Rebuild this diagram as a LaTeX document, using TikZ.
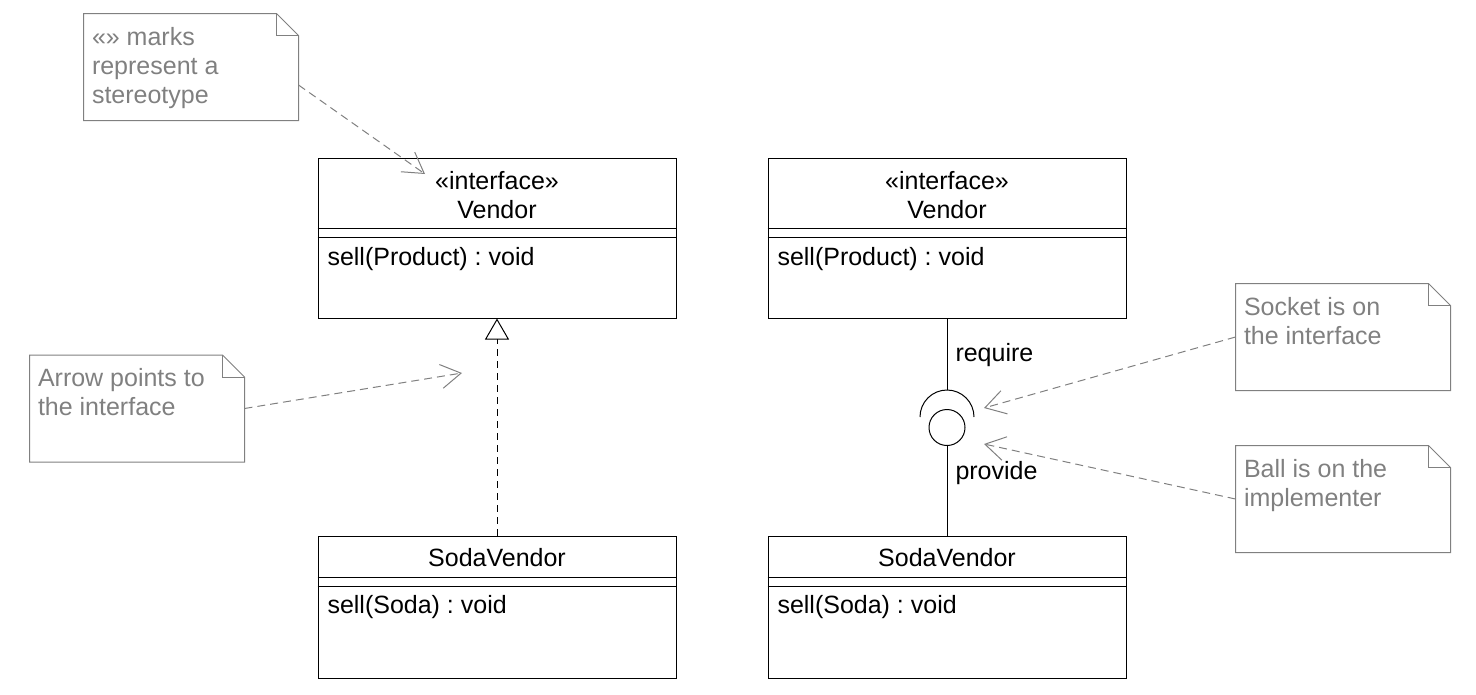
\documentclass[tikz,border=0pt]{standalone}
\usepackage{fontspec}
\setmainfont{Liberation Sans}
\usetikzlibrary{arrows.meta, positioning, calc}
\definecolor{notegray}{RGB}{128,128,128}
\frenchspacing

\newcommand{\vendorclasses}{
  % interface box at the top
  \node[classbox, minimum height=160pt] (iface) at (179, 80) {};
  \draw (iface.west |- 0, 70) -- (iface.east |- 0, 70);
  \draw (iface.west |- 0, 79) -- (iface.east |- 0, 79);
  \node[classtext, align=center] (ifacename) at (179, 37) {«interface»\\Vendor};
  \node[classtext, anchor=base west] (ifaceop) at (9, 107) {sell(Product) : void};

  % implementer box at the bottom
  \node[classbox, minimum height=142pt] (impl) at (179, 449) {};
  \draw (impl.west |- 0, 419) -- (impl.east |- 0, 419);
  \draw (impl.west |- 0, 428) -- (impl.east |- 0, 428);
  \node[classtext, anchor=base] (implname) at (179, 408) {SodaVendor};
  \node[classtext, anchor=base west] (implop) at (9, 455) {sell(Soda) : void};
}

\newcommand{\foldnote}[1]{
  \draw[noteline] (#1.north west) -- ([xshift=-22pt]#1.north east)
    -- ([yshift=-22pt]#1.north east) -- (#1.south east) -- (#1.south west) -- cycle;
  \draw[noteline] ([xshift=-22pt]#1.north east) |- ([yshift=-22pt]#1.north east);
}

\begin{document}
\begin{tikzpicture}[
  x=1pt, y=-1pt,
  line width=1pt,
  classbox/.style={rectangle, draw, minimum width=358pt, inner sep=0pt},
  classtext/.style={inner sep=0pt},
  notebox/.style={rectangle, minimum width=214pt, minimum height=106pt, inner sep=0pt},
  notetext/.style={inner sep=0pt, align=left, text=notegray, anchor=north west},
  noteline/.style={draw=notegray},
  noteref/.style={draw=notegray, dash pattern=on 8pt off 5pt,
    -{Straight Barb[length=20pt, width=24pt]}},
  realize/.style={dash pattern=on 7pt off 5pt,
    -{Triangle[open, length=21pt, width=24pt, fill=white]}},
  font=\fontsize{25pt}{29pt}\selectfont
  ]
  \useasboundingbox (0, 0) rectangle (1476, 694);

  %% Realization, arrow form
  \begin{scope}[shift={(318, 158)}, name prefix=l-]
    \vendorclasses
  \end{scope}
  \draw[realize] (l-impl.north) -- (l-iface.south);

  %% Realization, ball and socket form
  \begin{scope}[shift={(768, 158)}, name prefix=r-]
    \vendorclasses
  \end{scope}
  \node[circle, draw, minimum size=36pt, inner sep=0pt] (ball) at (947, 427.5) {};
  \coordinate (socket) at (947, 417);
  \coordinate (sockettop) at (947, 390);
  \draw (socket) ++(27, 0) arc[start angle=0, end angle=180, radius=27pt];
  \draw (r-iface.south) -- (sockettop);
  \draw (ball.south) -- (r-impl.north);
  \node[classtext, anchor=base west] (require) at (955, 361) {require};
  \node[classtext, anchor=base west] (provide) at (955, 479) {provide};

  %% Notes begin
  \node[notebox] (n1) at (191, 67) {};
  \node[notetext] (n1-text) at ([shift={(8pt, -13pt)}]n1.north west)
    {«» marks\\represent a\\stereotype};
  \node[notebox] (n2) at (137, 408.5) {};
  \node[notetext] (n2-text) at ([shift={(8pt, -13pt)}]n2.north west)
    {Arrow points to\\the interface};
  \node[notebox] (n3) at (1343, 337) {};
  \node[notetext] (n3-text) at ([shift={(8pt, -13pt)}]n3.north west)
    {Socket is on\\the interface};
  \node[notebox] (n4) at (1343, 499) {};
  \node[notetext] (n4-text) at ([shift={(8pt, -13pt)}]n4.north west)
    {Ball is on the\\implementer};

  \foreach \n in {n1, n2, n3, n4} {\foldnote{\n}}
  % Notes end

  % note references
  \coordinate (n1-tip) at (425, 174);
  \coordinate (n2-tip) at (462, 373);
  \coordinate (n3-tip) at (984, 408);
  \coordinate (n4-tip) at (984, 444);
  \draw[noteref] (n1.east |- 0, 85) -- (n1-tip);
  \draw[noteref] (n2.east) -- (n2-tip);
  \draw[noteref] (n3.west) -- (n3-tip);
  \draw[noteref] (n4.west) -- (n4-tip);

\end{tikzpicture}
\end{document}
